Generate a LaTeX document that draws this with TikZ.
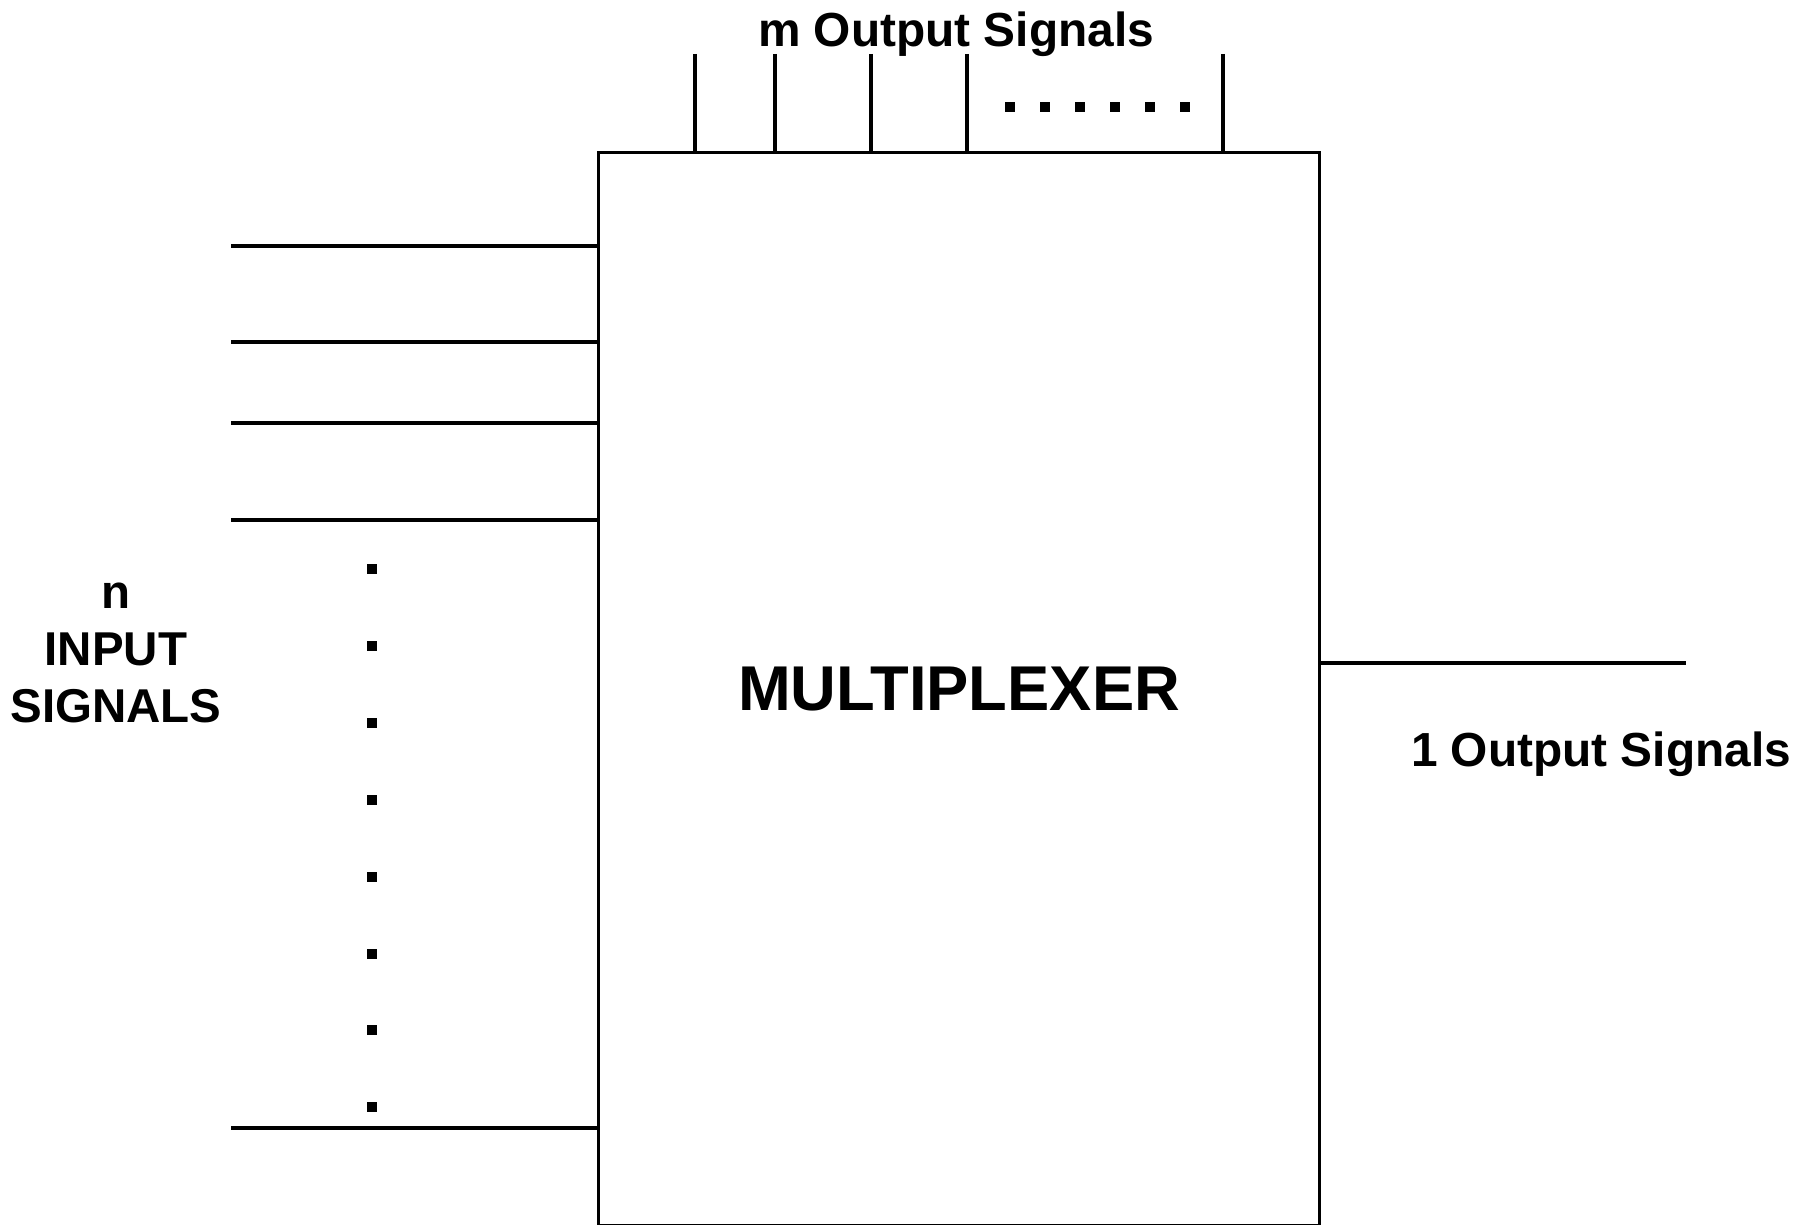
\documentclass[tikz,border=0pt]{standalone}
\usepackage{fontspec}
\setmainfont{Liberation Sans}
\usetikzlibrary{calc}

\begin{document}
\begin{tikzpicture}[x=0.01cm,y=-0.01cm,line width=0.85pt,
    wire/.style={line width=1.1pt},
    lbl/.style={font=\bfseries\fontsize{13.6}{16}\selectfont,inner sep=0pt}]
  \useasboundingbox (0,0) rectangle (1806,1225);
  % main block
  \node[draw,minimum width=7.2cm,minimum height=10.72cm,inner sep=0pt,
    font=\bfseries\fontsize{18}{22}\selectfont] (mux) at (959,689) {MULTIPLEXER};
  % n inputs
  \foreach \yy [count=\i] in {246,342,423,520,1128}{
    \coordinate (in\i) at (231,\yy);
    \draw[wire] (in\i) -- (mux.west |- in\i);
  }
  \foreach \yy in {569,646,723,800,877,954,1030,1107}
    \fill (372,\yy) ++(-5,-5) rectangle ++(10,10);
  \node[lbl,align=center,font=\bfseries\fontsize{13.5}{16.3}\selectfont] (inlbl) at (116,653)
    {n\\INPUT\\SIGNALS};
  % m outputs
  \foreach \xx [count=\i] in {695,775,871,967,1223}{
    \coordinate (up\i) at (\xx,54);
    \draw[wire,line width=1pt] (up\i) -- (up\i |- mux.north);
  }
  \foreach \xx in {0,...,5}
    \fill (1010+35*\xx,107) ++(-5,-5) rectangle ++(10,10);
  \node[lbl] (uplbl) at (956,34) {m Output Signals};
  % single output
  \coordinate (out) at (1686,663);
  \draw[wire] (mux.east |- out) -- (out);
  \node[lbl] (outlbl) at (1601,754) {1 Output Signals};
\end{tikzpicture}
\end{document}
